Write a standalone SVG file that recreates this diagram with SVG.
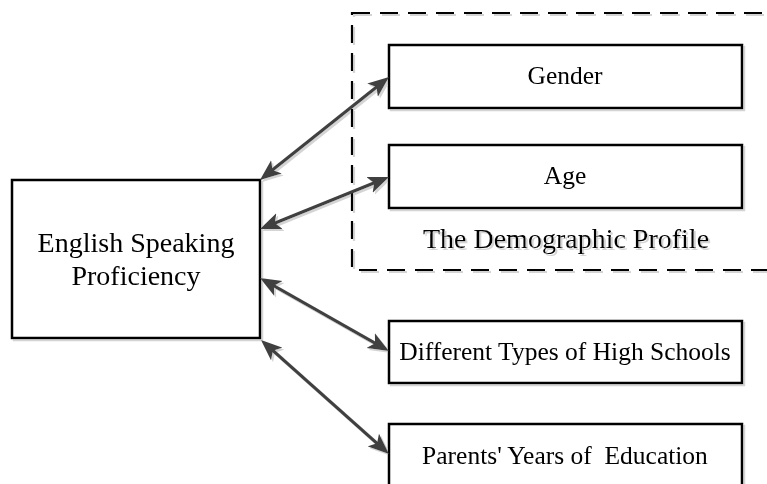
<svg xmlns="http://www.w3.org/2000/svg" width="767" height="484" viewBox="0 0 767 484">
  <style>
    .box { fill: #ffffff; stroke: #000000; stroke-width: 2.5; }
    .dash { fill: none; stroke: #000000; stroke-width: 2.2; stroke-dasharray: 18 10; }
    .conn { stroke: #404040; stroke-width: 3.2; fill: none; marker-start: url(#ah); marker-end: url(#ah); }
    text { font-family: "Liberation Serif", "Times New Roman", serif; fill: #000000; text-anchor: middle; }
    .t25 { font-size: 25.5px; }
    .t28 { font-size: 28px; }
  </style>
  <defs>
    <filter id="sh" x="-5%" y="-5%" width="115%" height="120%">
      <feFlood flood-color="#d4d4d4" result="c"/>
      <feComposite in="c" in2="SourceAlpha" operator="in" result="s"/>
      <feOffset in="s" dx="1.5" dy="1.5" result="o"/>
      <feMerge><feMergeNode in="o"/><feMergeNode in="SourceGraphic"/></feMerge>
    </filter>
    <marker id="ah" markerUnits="userSpaceOnUse" markerWidth="22" markerHeight="18" refX="10" refY="9" orient="auto-start-reverse" viewBox="0 0 22 18">
      <path d="M0,0.5 L21,9 L0,17.5 L5,9 Z" fill="#404040"/>
    </marker>
  </defs>
  <rect width="767" height="484" fill="#ffffff"/>
  <g filter="url(#sh)">
    <g id="demographic-profile">
      <rect class="dash" x="352" y="13" width="430" height="257"/>
      <text class="t28" x="566" y="248">The Demographic Profile</text>
    </g>
    <g id="english-speaking-proficiency">
      <rect class="box" x="12" y="180" width="248" height="158"/>
      <text class="t28" x="136" y="252">English Speaking</text>
      <text class="t28" x="136" y="285">Proficiency</text>
    </g>
    <g id="gender">
      <rect class="box" x="389" y="45" width="353" height="63"/>
      <text class="t25" x="565" y="84">Gender</text>
    </g>
    <g id="age">
      <rect class="box" x="389" y="145" width="353" height="63"/>
      <text class="t25" x="565" y="184">Age</text>
    </g>
    <g id="high-schools">
      <rect class="box" x="389" y="321" width="353" height="62"/>
      <text class="t25" x="565" y="360">Different Types of High Schools</text>
    </g>
    <g id="parents-education">
      <rect class="box" x="389" y="424" width="353" height="70"/>
      <text class="t25" x="565" y="464" xml:space="preserve">Parents' Years of  Education</text>
    </g>
    <g id="connectors">
      <line class="conn" x1="268.6" y1="173.1" x2="380.4" y2="83.9"/>
      <line class="conn" x1="270.2" y1="224.9" x2="378.8" y2="181.1"/>
      <line class="conn" x1="269.6" y1="283.4" x2="379.4" y2="345.6"/>
      <line class="conn" x1="269.2" y1="347.3" x2="380.8" y2="446.7"/>
    </g>
  </g>
</svg>
